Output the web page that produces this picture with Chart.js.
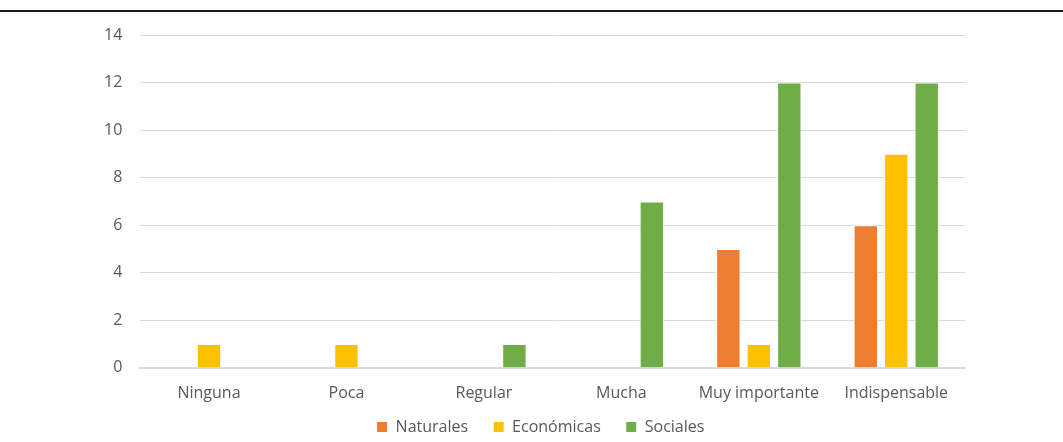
<!DOCTYPE html>
<html>
<head>
<meta charset="utf-8">
<script src="https://cdn.jsdelivr.net/npm/chart.js"></script>
<style>
  html, body { margin: 0; padding: 0; background: #fff; }
  #wrap { position: relative; width: 1063px; height: 442px; }
  #topline { position: absolute; left: 0; top: 10px; width: 1063px; height: 2px; background: #1a1a1a; }
</style>
</head>
<body>
<div id="wrap">
  <div id="topline"></div>
  <canvas id="myChart" width="1063" height="442"></canvas>
</div>
<script>
var categories = ["Ninguna", "Poca", "Regular", "Mucha", "Muy importante", "Indispensable"];
var naturales = [0, 0, 0, 0, 5, 6];
var economicas = [1, 1, 0, 0, 1, 9];
var sociales = [0, 0, 1, 7, 12, 12];

Chart.defaults.font.family = "'Open Sans', Lato, sans-serif";
Chart.defaults.font.size = 16;
Chart.defaults.color = '#595959';

// pull the legend closer to the axis labels (legend padding also sets item spacing)
var tightLegend = {
    id: 'tightLegend',
    beforeLayout: function (chart) {
        var lg = chart.legend;
        if (lg && !lg._tight) {
            var origFit = lg.fit;
            lg.fit = function () {
                origFit.call(this);
                this.height -= 22;
            };
            lg._tight = true;
        }
    },
    afterLayout: function (chart) {
        // only move the top up, so the legend's clip box still reaches the canvas bottom
        chart.legend.top -= 17;
        chart.legend.left += 15;
        chart.legend.right += 15;
    }
};

var ctx = document.getElementById('myChart').getContext('2d');
var chart = new Chart(ctx, {
    type: 'bar',
    data: {
        labels: categories,
        datasets: [
            {
                label: "Naturales",
                backgroundColor: 'rgb(237, 125, 49)',
                borderColor: '#fff',
                borderWidth: 1,
                data: naturales
            },
            {
                label: "Económicas",
                backgroundColor: 'rgb(255, 192, 0)',
                borderColor: '#fff',
                borderWidth: 1,
                data: economicas
            },
            {
                label: "Sociales",
                backgroundColor: 'rgb(112, 173, 71)',
                borderColor: '#fff',
                borderWidth: 1,
                data: sociales
            }
        ]
    },
    options: {
        responsive: false,
        animation: false,
        categoryPercentage: 0.665,
        barPercentage: 0.8,
        layout: { padding: { left: 86, right: 98, top: 35, bottom: 2 } },
        plugins: {
            legend: {
                position: 'bottom',
                labels: { boxWidth: 11, boxHeight: 11, padding: 25, color: '#595959' }
            },
            tooltip: { enabled: false }
        },
        scales: {
            x: {
                grid: { display: false },
                border: { color: '#d9d9d9', width: 2 },
                ticks: { padding: 8 }
            },
            y: {
                min: 0,
                max: 14,
                ticks: { stepSize: 2, padding: 18 },
                grid: { color: '#d9d9d9', drawTicks: false },
                border: { display: false }
            }
        }
    },
    plugins: [tightLegend]
});
</script>
</body>
</html>
